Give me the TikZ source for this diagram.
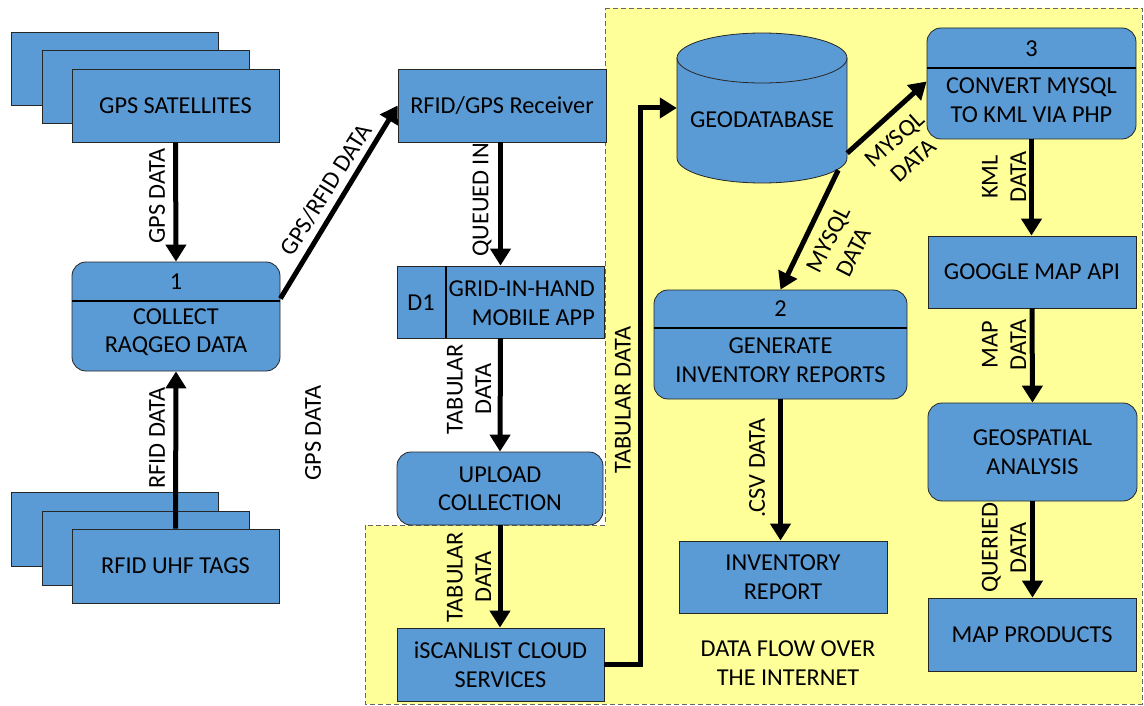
\documentclass[tikz,border=0pt]{standalone}
\usepackage{fontspec}
\setmainfont{Carlito}
\usetikzlibrary{arrows.meta}
\definecolor{boxblue}{HTML}{5B9BD5}
\definecolor{netyellow}{HTML}{FFFF99}
\begin{document}
\begin{tikzpicture}[x=1pt,y=-1pt,
  every node/.style={font=\fontsize{24.3}{28.5}\selectfont, text=black},
  box/.style={draw=black!85, line width=0.8pt, fill=boxblue, inner sep=0pt, align=center},
  procbox/.style={box, rounded corners=14pt},
  divider/.style={line width=2.4pt, black},
  flow/.style={line width=5pt, -{Triangle[length=17pt,width=20pt]}},
  lbl/.style={inner sep=0pt, align=center},
]
\useasboundingbox (0,0) rectangle (1144,706);

% internet zone
\draw[fill=netyellow, draw=black!60, line width=0.9pt, dash pattern=on 5pt off 3pt]
  (605,8) -- (1142,8) -- (1142,704) -- (365,704) -- (365,525) -- (605,525) -- cycle;

% external entities (stacked)
\node[box, minimum width=207pt, minimum height=73pt] (gpsA) at (114.5,68.5) {};
\node[box, minimum width=207pt, minimum height=73pt] (gpsB) at (145.5,86.5) {};
\node[box, minimum width=207pt, minimum height=73pt] (gpsF) at (175.5,105.5) {GPS SATELLITES};

\node[box, minimum width=207pt, minimum height=74pt] (rfidA) at (114.5,529) {};
\node[box, minimum width=207pt, minimum height=74pt] (rfidB) at (145.5,548.5) {};
\node[box, minimum width=207pt, minimum height=74pt] (rfidF) at (175.5,566) {RFID UHF TAGS};

% process 1
\node[procbox, minimum width=208pt, minimum height=109pt] (collect) at (176,316.5) {};
\draw[divider] (72,301) -- (280,301);
\node[lbl] (collectNo) at (176,282) {1};
\node[lbl] (collectTx) at (176,332) {COLLECT\\RAQGEO DATA};

% receiver and mobile app
\node[box, minimum width=208pt, minimum height=73pt] (recv) at (502,105.5) {RFID/GPS Receiver};
\node[box, minimum width=207pt, minimum height=72pt] (app) at (500.5,302) {};
\draw[line width=2.4pt] (446,266) -- (446,338);
\node[lbl] (appId) at (421,303) {D1};
\node[lbl, align=right, anchor=east] (appTx) at (595,303) {GRID-IN-HAND\\MOBILE APP};

\node[procbox, minimum width=206pt, minimum height=73pt] (upload) at (500,488.5) {UPLOAD\\COLLECTION};
\node[box, minimum width=207pt, minimum height=73pt] (iscan) at (500.5,664.5) {iSCANLIST CLOUD\\SERVICES};

% geodatabase store
\node[inner sep=0pt, minimum width=170pt, minimum height=150pt] (geo) at (762,108) {};
\fill[boxblue] (677,58) -- (677,158) arc[start angle=180, end angle=0, x radius=85, y radius=25]
  -- (847,58) arc[start angle=0, end angle=-180, x radius=85, y radius=25] -- cycle;
\draw[black!85, line width=0.8pt] (677,58) -- (677,158) arc[start angle=180, end angle=0, x radius=85, y radius=25] -- (847,58);
\draw[black!85, line width=0.8pt] (762,58) ellipse[x radius=85, y radius=25];
\node[lbl] (geoTx) at (762,120) {GEODATABASE};

% process 2 and report
\node[procbox, minimum width=253pt, minimum height=109pt] (gen) at (780.5,344.5) {};
\draw[divider] (654,328) -- (907,328);
\node[lbl] (genNo) at (780.5,309) {2};
\node[lbl] (genTx) at (780.5,360) {GENERATE\\INVENTORY REPORTS};
\node[box, minimum width=208pt, minimum height=72pt] (invr) at (783,577) {INVENTORY\\REPORT};

% process 3 and map chain
\node[procbox, minimum width=209pt, minimum height=111pt] (conv) at (1031.5,83.5) {};
\draw[divider] (927,68) -- (1136,68);
\node[lbl] (convNo) at (1031.5,49) {3};
\node[lbl] (convTx) at (1031.5,100) {CONVERT MYSQL\\TO KML VIA PHP};
\node[box, minimum width=208pt, minimum height=72pt] (gmap) at (1032,272) {GOOGLE MAP API};
\node[procbox, minimum width=209pt, minimum height=98pt] (geosp) at (1032.5,452) {GEOSPATIAL\\ANALYSIS};
\node[box, minimum width=208pt, minimum height=73pt] (mapp) at (1032,634.5) {MAP PRODUCTS};

\node[lbl] (zoneTx) at (788,663) {DATA FLOW OVER\\THE INTERNET};

% data flows
\draw[flow] (gpsF.south) -- (collect.north);
\draw[flow] (rfidF.north) -- (collect.south);
\draw[flow] ([yshift=18pt]collect.east) -- (recv.west);
\draw[flow] (recv.south -| app.north) -- (app.north);
\draw[flow] (app.south) -- (upload.north);
\draw[flow] (upload.south) -- (upload.south |- iscan.north);
\coordinate (riser) at (640,108);
\draw[flow] (iscan.east) -| (riser) -- (geo.west);
\draw[flow] ([yshift=30pt]geo.south east) -- ([yshift=2pt]conv.west);
\draw[flow] ([xshift=-9pt,yshift=13pt]geo.south east) -- (gen.north);
\draw[flow] (gen.south) -- (gen.south |- invr.north);
\draw[flow] (conv.south) -- (conv.south |- gmap.north);
\draw[flow] (gmap.south) -- (geosp.north);
\draw[flow] (geosp.south) -- (geosp.south |- mapp.north);

% flow labels
\node[lbl, rotate=90] (lGps) at (157,196) {GPS DATA};
\node[lbl, rotate=90] (lRfid) at (157,438) {RFID DATA};
\node[lbl, rotate=58] (lGpsRfid) at (326,190) {GPS/RFID DATA};
\node[lbl, rotate=90] (lGps2) at (313,433) {GPS DATA};
\node[lbl, rotate=90] (lQueue) at (482,200) {QUEUED IN};
\node[lbl, rotate=90] (lTab1) at (469,389) {TABULAR\\DATA};
\node[lbl, rotate=90] (lTab2) at (469,577) {TABULAR\\DATA};
\node[lbl, rotate=90] (lTab3) at (623,400) {TABULAR DATA};
\node[lbl, rotate=42] (lSql1) at (904,150) {MYSQL\\DATA};
\node[lbl, rotate=63] (lSql2) at (841,246) {MYSQL\\DATA};
\node[lbl, rotate=90] (lCsv) at (757,468) {.CSV DATA};
\node[lbl, rotate=90] (lKml) at (1004,177) {KML\\DATA};
\node[lbl, rotate=90] (lMap) at (1004,345) {MAP\\DATA};
\node[lbl, rotate=90] (lQuery) at (1004,548) {QUERIED\\DATA};
\end{tikzpicture}
\end{document}
